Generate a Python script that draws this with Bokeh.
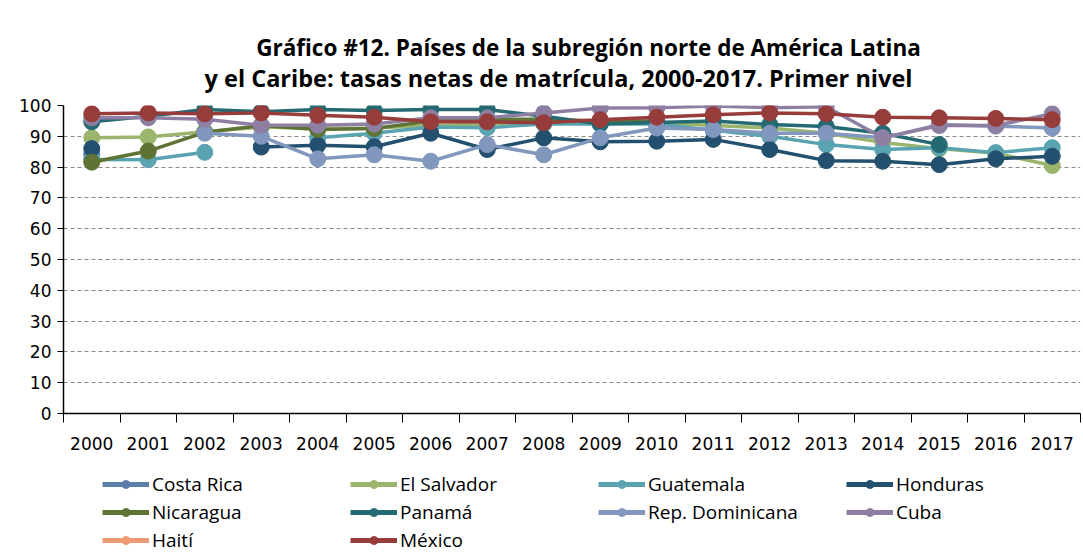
import math
from bokeh.plotting import figure
from bokeh.layouts import column
from bokeh.models import Range1d, FixedTicker, LinearAxis, Legend, LegendItem, Label
from bokeh.embed import file_html
from bokeh.resources import INLINE

nan = float("nan")

years = list(range(2000, 2018))
countries = ["Costa Rica", "El Salvador", "Guatemala", "Honduras", "Nicaragua",
             "Panamá", "Rep. Dominicana", "Cuba", "Haití", "México"]
colors = ["#5b7fa8", "#9bb56c", "#5aa3b0", "#24506f", "#5e7334",
          "#256a72", "#8197bd", "#8e7fa2", "#ee9a74", "#963c3b"]

costa_rica = [84.0, nan, nan, nan, nan, nan, nan, nan, nan, nan, nan, nan, nan, nan, nan, nan, nan, nan]
el_salvador = [89.5, 89.8, 91.5, 93.0, 92.5, 92.7, 93.5, 94.0, 94.5, 94.5, 94.5, 93.5, 92.7, 91.0, 88.0, 86.0, 84.5, 80.5]
guatemala = [82.5, 82.4, 84.8, nan, 89.5, 91.0, 93.0, 92.8, 94.0, 94.0, 94.0, 92.0, 90.0, 87.3, 85.7, 86.3, 84.7, 86.3]
honduras = [86.0, nan, nan, 86.5, 87.1, 86.6, 91.0, 85.7, 89.5, 88.2, 88.4, 89.0, 85.7, 82.1, 81.9, 80.8, 82.7, 83.5]
nicaragua = [81.6, 85.2, 91.3, 93.5, 92.2, 92.5, 95.0, 95.5, 95.5, 95.0, 95.0, nan, nan, nan, nan, nan, nan, nan]
panama = [94.7, 96.5, 98.7, 98.0, 98.7, 98.4, 98.7, 98.7, 96.5, 94.0, 94.5, 95.0, 93.8, 93.2, 91.0, 87.3, nan, nan]
rep_dominicana = [nan, nan, 91.0, 90.0, 82.7, 84.0, 81.9, 87.3, 84.0, 89.5, 92.7, 92.2, 91.0, 91.0, 89.5, 93.8, 93.3, 92.7]
cuba = [96.0, 96.0, 95.5, 93.6, 93.6, 94.0, 96.0, 96.0, 97.6, 99.2, 99.3, 99.8, 99.3, 99.6, 89.5, 93.5, 93.5, 97.3]
haiti = [nan] * 18
mexico = [97.3, 97.6, 97.3, 97.6, 96.8, 96.2, 94.7, 94.7, 94.4, 95.4, 96.2, 97.0, 97.6, 97.3, 96.2, 96.0, 95.8, 95.4]

series = [costa_rica, el_salvador, guatemala, honduras, nicaragua,
          panama, rep_dominicana, cuba, haiti, mexico]

y_ticks = list(range(0, 101, 10))
title_line1 = "Gráfico #12. Países de la subregión norte de América Latina"
title_line2 = "y el Caribe: tasas netas de matrícula, 2000-2017. Primer nivel"

W = 1083
HEAD_H = 95
MAIN_H = 360
LEG_H = 553 - HEAD_H - MAIN_H


def blank(h):
    f = figure(width=W, height=h, output_backend="svg", toolbar_location=None,
               x_range=Range1d(0, 1), y_range=Range1d(0, 1),
               x_axis_type=None, y_axis_type=None,
               min_border=0, min_border_left=0, min_border_right=0,
               min_border_top=0, min_border_bottom=0)
    f.outline_line_color = None
    f.xgrid.visible = False
    f.ygrid.visible = False
    f.background_fill_color = "white"
    f.border_fill_color = "white"
    return f


# ---- header with the two title lines (frame aligned with the chart, left at 63) ----
head = blank(HEAD_H)
head.add_layout(Label(x=525, y=HEAD_H - 47, x_units="screen", y_units="screen",
                      text=title_line1, text_align="center", text_baseline="middle",
                      text_font="Open Sans", text_font_style="bold",
                      text_font_size="22.5px", text_color="black"))
head.add_layout(Label(x=495, y=HEAD_H - 77, x_units="screen", y_units="screen",
                      text=title_line2, text_align="center", text_baseline="middle",
                      text_font="Open Sans", text_font_style="bold",
                      text_font_size="23.5px", text_color="black"))

# ---- main chart ----
p = figure(width=W, height=MAIN_H, output_backend="svg", toolbar_location=None,
           x_range=Range1d(1999.5, 2017.5), y_range=Range1d(0, 100),
           x_axis_type=None, min_border_left=63, min_border_right=3,
           min_border_top=10, min_border_bottom=42)
p.outline_line_color = None
p.background_fill_color = "white"
p.border_fill_color = "white"

p.yaxis.ticker = FixedTicker(ticks=y_ticks)
p.yaxis.axis_line_color = "black"
p.yaxis.axis_line_width = 1.5
p.yaxis.major_tick_line_color = "black"
p.yaxis.major_tick_out = 6
p.yaxis.major_tick_in = 0
p.yaxis.minor_tick_line_color = None
p.yaxis.major_label_text_font = "DejaVu Sans"
p.yaxis.major_label_text_font_size = "17px"
p.yaxis.major_label_text_color = "black"
p.yaxis.major_label_standoff = 6

p.ygrid.ticker = FixedTicker(ticks=y_ticks[1:])
p.ygrid.grid_line_color = "#8a8a8a"
p.ygrid.grid_line_dash = "4 3"
p.ygrid.grid_line_width = 1
p.xgrid.visible = False

bounds = [1999.5 + i for i in range(len(years) + 1)]
ax_ticks = LinearAxis(ticker=FixedTicker(ticks=bounds),
                      major_label_overrides={b: "" for b in bounds})
ax_ticks.axis_line_color = "black"
ax_ticks.axis_line_width = 1.5
ax_ticks.major_tick_line_color = "black"
ax_ticks.major_tick_out = 9
ax_ticks.major_tick_in = 0
ax_ticks.minor_tick_line_color = None
ax_ticks.major_label_standoff = 0
ax_ticks.major_label_text_font_size = "1px"
p.add_layout(ax_ticks, "below")

ax_lab = LinearAxis(ticker=FixedTicker(ticks=years),
                    major_label_overrides={y: str(y) for y in years})
ax_lab.axis_line_color = None
ax_lab.major_tick_line_color = None
ax_lab.minor_tick_line_color = None
ax_lab.major_label_standoff = 8
ax_lab.major_label_text_font = "DejaVu Sans"
ax_lab.major_label_text_font_size = "17px"
ax_lab.major_label_text_color = "black"
p.add_layout(ax_lab, "below")

for name, col, vals in zip(countries, colors, series):
    p.line(years, vals, line_width=3.5, color=col)
    p.scatter(years, vals, size=16, color=col)

# ---- legend panel ----
leg = blank(LEG_H)
items = []
for name, col in zip(countries, colors):
    lg_line = leg.line([nan], [nan], line_width=5, color=col)
    lg_pt = leg.scatter([nan], [nan], size=8, color=col)
    items.append(LegendItem(label=name, renderers=[lg_line, lg_pt]))

legend = Legend(items=items, orientation="horizontal", ncols=4,
                location=(39, 0), glyph_width=47, glyph_height=20,
                label_standoff=3, label_width=196, spacing=2,
                label_text_font="Open Sans", label_text_font_size="19px",
                label_text_color="black", border_line_color=None,
                background_fill_alpha=0, padding=4, margin=0)
leg.add_layout(legend, "center")

layout = column(head, p, leg, spacing=0)
open("out.html", "w").write(file_html(layout, INLINE))
